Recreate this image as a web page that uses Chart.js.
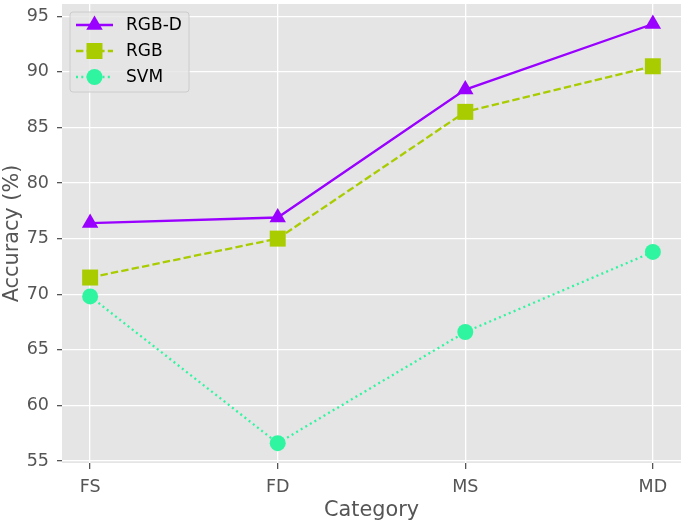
<!DOCTYPE html>
<html>
<head>
<meta charset="utf-8">
<script src="https://cdn.jsdelivr.net/npm/chart.js@4"></script>
<style>
  html, body { margin: 0; padding: 0; background: #fff; }
  #wrap { width: 685px; height: 521px; }
</style>
</head>
<body>
<div id="wrap"><canvas id="chart"></canvas></div>
<script>
const categories = ['FS', 'FD', 'MS', 'MD'];
const rgbdAcc = [76.4, 76.9, 88.4, 94.3];
const rgbAcc = [71.5, 75.0, 86.4, 90.5];
const svmAcc = [69.8, 56.6, 66.6, 73.8];
const yTicks = [55, 60, 65, 70, 75, 80, 85, 90, 95];

const FONT = "'DejaVu Sans', sans-serif";

function toPoints(vals) {
  return vals.map((v, i) => ({ x: i, y: v }));
}

// ggplot-like grey panel behind the plot
const panelBg = {
  id: 'panelBg',
  beforeDraw(chart) {
    const { ctx, chartArea: a } = chart;
    ctx.save();
    ctx.fillStyle = '#e5e5e5';
    ctx.fillRect(a.left, a.top, a.right - a.left, a.bottom - a.top);
    ctx.restore();
  }
};

// legend with line sample through the marker, like matplotlib
const lineLegend = {
  id: 'lineLegend',
  afterDraw(chart) {
    const ctx = chart.ctx;
    const bx = 70, by = 12, bw = 119, bh = 80;
    ctx.save();
    ctx.beginPath();
    ctx.roundRect(bx, by, bw, bh, 3);
    ctx.fillStyle = 'rgba(229,229,229,0.8)';
    ctx.fill();
    ctx.strokeStyle = '#cccccc';
    ctx.lineWidth = 1;
    ctx.stroke();
    const rows = [25, 51, 77];
    chart.data.datasets.forEach((ds, i) => {
      const y = rows[i];
      ctx.beginPath();
      ctx.setLineDash(ds.borderDash || []);
      ctx.strokeStyle = ds.borderColor;
      ctx.lineWidth = ds.borderWidth;
      ctx.moveTo(76, y);
      ctx.lineTo(113, y);
      ctx.stroke();
      ctx.setLineDash([]);
      ctx.fillStyle = ds.pointBackgroundColor;
      ctx.strokeStyle = ds.pointBackgroundColor;
      Chart.helpers.drawPoint(ctx, {
        pointStyle: ds.pointStyle, radius: ds.pointRadius, borderWidth: 0, rotation: 0
      }, 94.5, y);
      ctx.fillStyle = '#000';
      ctx.font = '17px ' + FONT;
      ctx.textBaseline = 'middle';
      ctx.fillText(ds.label, 126, y + 1);
    });
    ctx.restore();
  }
};

function noPad(scale) {
  scale.paddingTop = 0;
  scale.paddingBottom = 0;
  scale.paddingLeft = 0;
  scale.paddingRight = 0;
}

const chart = new Chart(document.getElementById('chart'), {
  type: 'line',
  data: {
    datasets: [
      {
        label: 'RGB-D',
        data: toPoints(rgbdAcc),
        borderColor: '#9900ff',
        pointBackgroundColor: '#9900ff',
        borderWidth: 2.3,
        pointStyle: 'triangle',
        pointRadius: 9.5,
        pointBorderWidth: 0
      },
      {
        label: 'RGB',
        data: toPoints(rgbAcc),
        borderColor: '#a8cc00',
        pointBackgroundColor: '#a8cc00',
        borderWidth: 2.3,
        borderDash: [7.4, 3.2],
        pointStyle: 'rect',
        pointRadius: 11.3,
        pointBorderWidth: 0
      },
      {
        label: 'SVM',
        data: toPoints(svmAcc),
        borderColor: '#30f5a0',
        pointBackgroundColor: '#30f5a0',
        borderWidth: 2.3,
        borderDash: [2, 3.3],
        pointStyle: 'circle',
        pointRadius: 8,
        pointBorderWidth: 0
      }
    ]
  },
  options: {
    responsive: true,
    maintainAspectRatio: false,
    animation: false,
    layout: { autoPadding: false, padding: { top: 4, right: 4, left: 0, bottom: 0 } },
    plugins: {
      legend: { display: false },
      tooltip: { enabled: false }
    },
    scales: {
      x: {
        type: 'linear',
        min: -0.15,
        max: 3.15,
        afterBuildTicks(scale) {
          scale.ticks = categories.map((c, i) => ({ value: i }));
        },
        afterFit(scale) { scale.height = 58; noPad(scale); },
        ticks: {
          callback: (v) => categories[v],
          color: '#555555',
          font: { family: FONT, size: 17.5 },
          padding: 8
        },
        grid: { color: '#ffffff', lineWidth: 1.3, tickColor: '#555555', tickLength: 6 },
        border: { display: false },
        title: {
          display: true,
          text: 'Category',
          color: '#555555',
          font: { family: FONT, size: 20.8 },
          padding: { top: 4, bottom: -2 }
        }
      },
      y: {
        min: 54.82,
        max: 96.1,
        afterBuildTicks(scale) {
          scale.ticks = yTicks.map(v => ({ value: v }));
        },
        afterFit(scale) { scale.width = 62; noPad(scale); },
        ticks: {
          color: '#555555',
          font: { family: FONT, size: 17.5 },
          padding: 8
        },
        grid: { color: '#ffffff', lineWidth: 1.3, tickColor: '#555555', tickLength: 5 },
        border: { display: false },
        title: {
          display: true,
          text: 'Accuracy (%)',
          color: '#555555',
          font: { family: FONT, size: 20.8 },
          padding: { top: 0, bottom: 2 }
        }
      }
    }
  },
  plugins: [panelBg, lineLegend]
});
</script>
</body>
</html>
